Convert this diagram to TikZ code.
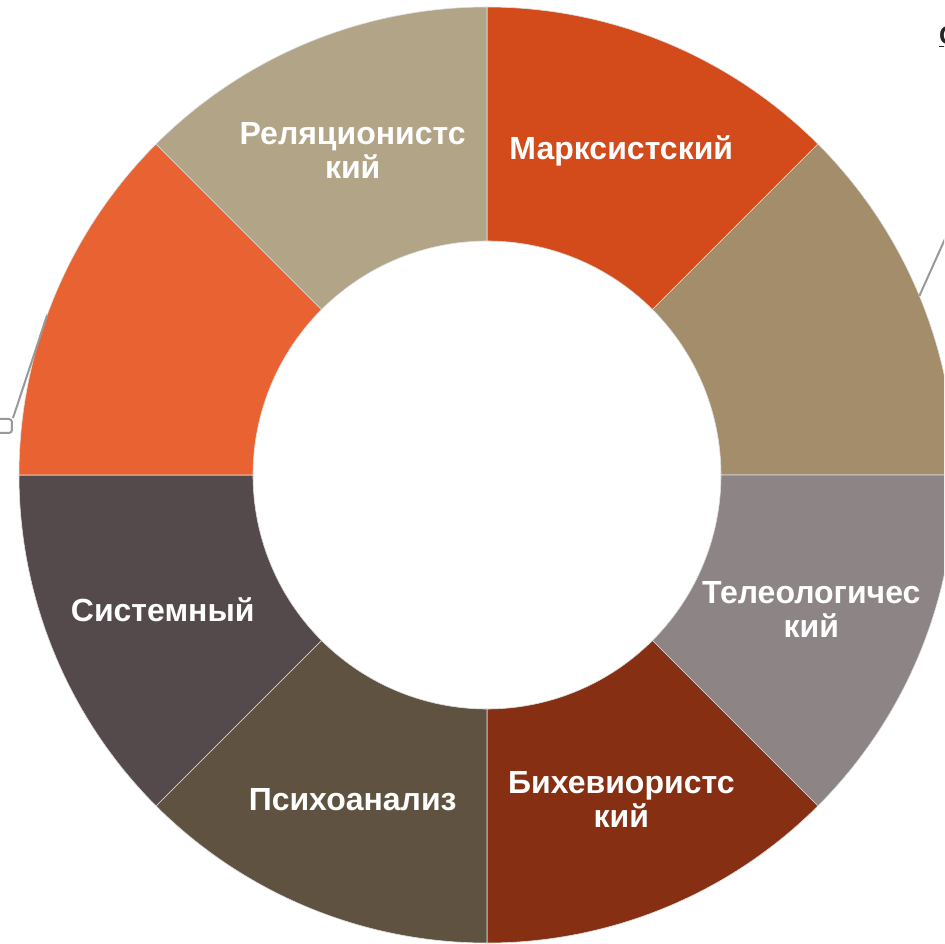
\documentclass[tikz,border=0pt]{standalone}
\usepackage{fontspec}
\setmainfont{Liberation Sans}
\usepackage{xcolor}
\definecolor{MarxRed}{HTML}{D34B1A}
\definecolor{SandTan}{HTML}{A38D6A}
\definecolor{TeleoGrey}{HTML}{8C8485}
\definecolor{BehavBrown}{HTML}{862F12}
\definecolor{PsychoOlive}{HTML}{5F5241}
\definecolor{SystemGrey}{HTML}{544A4B}
\definecolor{FlameOrange}{HTML}{E96332}
\definecolor{RelatBeige}{HTML}{B1A487}
\usetikzlibrary{positioning}

\begin{document}
\begin{tikzpicture}[
  x=1pt, y=1pt,
  slice/.style={draw=white!75!gray, line width=0.6pt},
  segtext/.style={text=white, align=center, font=\fontsize{32}{34}\selectfont\bfseries},
  leader/.style={draw=gray!80, line width=2pt},
  callout/.style={draw=gray!80, line width=2pt, rounded corners=3pt, minimum width=40pt, minimum height=14pt, inner sep=0pt}
]
  \useasboundingbox (-487,-469) rectangle (457,475);
  \clip (-487,-469) rectangle (457,475);

  % Ring
  \fill[slice, fill=MarxRed] (45:468) arc (45:90:468) -- (90:234) arc (90:45:234) -- cycle;
  \fill[slice, fill=SandTan] (0:468) arc (0:45:468) -- (45:234) arc (45:0:234) -- cycle;
  \fill[slice, fill=TeleoGrey] (-45:468) arc (-45:0:468) -- (0:234) arc (0:-45:234) -- cycle;
  \fill[slice, fill=BehavBrown] (-90:468) arc (-90:-45:468) -- (-45:234) arc (-45:-90:234) -- cycle;
  \fill[slice, fill=PsychoOlive] (-135:468) arc (-135:-90:468) -- (-90:234) arc (-90:-135:234) -- cycle;
  \fill[slice, fill=SystemGrey] (-180:468) arc (-180:-135:468) -- (-135:234) arc (-135:-180:234) -- cycle;
  \fill[slice, fill=FlameOrange] (135:468) arc (135:180:468) -- (180:234) arc (180:135:234) -- cycle;
  \fill[slice, fill=RelatBeige] (90:468) arc (90:135:468) -- (135:234) arc (135:90:234) -- cycle;

  % Segment labels
  \node[segtext] (marx) at (67.5:351) {Марксистский};
  \node[segtext] (teleo) at (-22.5:351) {Телеологичес\\кий};
  \node[segtext] (behav) at (-67.5:351) {Бихевиористс\\кий};
  \node[segtext] (psycho) at (-112.5:351) {Психоанализ};
  \node[segtext] (system) at (-157.5:351) {Системный};
  \node[segtext] (relat) at (112.5:351) {Реляционистс\\кий};

  % Leaders to labels outside
  \coordinate (tanedge) at (22.5:468);
  \coordinate (tanend) at (480,285);
  \coordinate (orangeedge) at (160:468);
  \node[callout, anchor=north east] (leftbox) at (-474,57) {};
  \node[anchor=west, inner sep=0pt, text=black!85, font=\fontsize{26}{28}\selectfont\bfseries] (toptext) at (452,438) {\underline{С}};

  \draw[leader] (tanedge) -- (tanend);
  \draw[leader] (orangeedge) -- (leftbox.north east);
\end{tikzpicture}
\end{document}
